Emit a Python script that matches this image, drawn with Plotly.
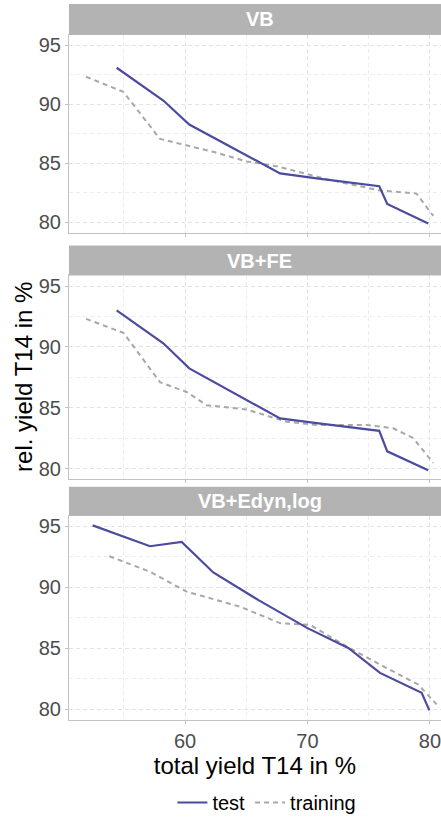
import plotly.graph_objects as go

panels = ["VB", "VB+FE", "VB+Edyn,log"]

# test series
vb_test_x = [54.42, 58.23, 60.35, 64.0, 67.76, 70.75, 75.86, 76.51, 79.86]
vb_test_y = [93.08, 90.31, 88.28, 86.25, 84.15, 83.72, 83.07, 81.57, 79.92]
fe_test_x = [54.42, 58.23, 60.35, 64.0, 67.76, 70.75, 75.86, 76.51, 79.86]
fe_test_y = [93.0, 90.3, 88.24, 86.2, 84.13, 83.75, 83.11, 81.43, 79.87]
ed_test_x = [52.46, 57.14, 59.73, 62.31, 66.0, 70.0, 73.33, 75.92, 79.32, 79.95]
ed_test_y = [95.08, 93.37, 93.72, 91.22, 88.95, 86.66, 85.03, 82.99, 81.36, 79.92]

# training series
vb_train_x = [51.92, 54.97, 57.96, 62.31, 65.04, 67.49, 72.1, 75.92, 78.91, 80.27]
vb_train_y = [92.32, 91.04, 87.06, 85.97, 85.16, 84.75, 83.53, 82.71, 82.44, 80.55]
fe_train_x = [51.92, 54.97, 57.96, 60.13, 61.77, 65.04, 68.3, 70.75, 74.83, 77.0, 78.64, 80.27]
fe_train_y = [92.3, 91.16, 87.11, 86.3, 85.22, 84.86, 83.86, 83.6, 83.6, 83.32, 82.51, 80.48]
ed_train_x = [53.82, 57.14, 60.13, 62.59, 64.49, 67.76, 70.2, 73.2, 75.92, 79.04, 80.55]
ed_train_y = [92.55, 91.28, 89.65, 88.97, 88.42, 87.07, 86.93, 85.16, 83.67, 82.04, 80.41]

test_x = [vb_test_x, fe_test_x, ed_test_x]
test_y = [vb_test_y, fe_test_y, ed_test_y]
train_x = [vb_train_x, fe_train_x, ed_train_x]
train_y = [vb_train_y, fe_train_y, ed_train_y]

x_ticks = [60, 70, 80]
y_ticks = [80, 85, 90, 95]

TEST_COL = "#4B4B9F"
TRAIN_COL = "#A8A8A8"
FONT = "Liberation Sans, Arial, sans-serif"

fig = go.Figure()

# layout geometry (paper fractions)
panel_domains = [[0.6805, 0.9571], [0.3361, 0.6209], [0.0, 0.2853]]
strip_domains = [[0.9571, 1.0], [0.6209, 0.6626], [0.2853, 0.3259]]

for i in range(3):
    xa = "x" if i == 0 else f"x{i+1}"
    ya = "y" if i == 0 else f"y{i+1}"
    fig.add_trace(go.Scatter(x=train_x[i], y=train_y[i], mode="lines", name="training",
                             line=dict(color=TRAIN_COL, width=2, dash="5px,4px"),
                             xaxis=xa, yaxis=ya, showlegend=False, legendrank=2))
    fig.add_trace(go.Scatter(x=test_x[i], y=test_y[i], mode="lines", name="test",
                             line=dict(color=TEST_COL, width=2.2),
                             xaxis=xa, yaxis=ya, showlegend=False, legendrank=1))

# legend entries
fig.add_trace(go.Scatter(x=[None], y=[None], mode="lines", name="test",
                         line=dict(color=TEST_COL, width=2.2), showlegend=True, legendrank=1))
fig.add_trace(go.Scatter(x=[None], y=[None], mode="lines", name="training",
                         line=dict(color=TRAIN_COL, width=2, dash="5px,4px"), showlegend=True, legendrank=2))

for i in range(3):
    xk = "xaxis" if i == 0 else f"xaxis{i+1}"
    yk = "yaxis" if i == 0 else f"yaxis{i+1}"
    ya = "y" if i == 0 else f"y{i+1}"
    xa = "x" if i == 0 else f"x{i+1}"
    xaxis = dict(range=[50.53, 80.9], tickvals=x_ticks, showticklabels=(i == 2),
                 anchor=ya, domain=[0, 1], showline=True, linecolor="#C2C2C2", linewidth=1,
                 mirror=True, ticks="outside", ticklen=3, tickcolor="#C2C2C2",
                 tickfont=dict(size=20, color="#4D4D4D", family=FONT), zeroline=False,
                 gridcolor="#E3E3E3", griddash="4px,3px", gridwidth=1,
                 ticklabeloverflow="allow",
                 minor=dict(showgrid=True, gridcolor="#EDEDED", griddash="4px,3px", gridwidth=1,
                            tickvals=[55, 65, 75]))
    if i != 0:
        xaxis["matches"] = "x"
    if i == 2:
        xaxis["title"] = dict(text="total yield T14 in %", font=dict(size=24, color="#000000", family=FONT),
                              standoff=6)
    yaxis = dict(range=[79.13, 95.87], tickvals=y_ticks, anchor=xa, domain=panel_domains[i],
                 showline=True, linecolor="#C2C2C2", linewidth=1, mirror=False,
                 ticks="outside", ticklen=3, tickcolor="#C2C2C2",
                 tickfont=dict(size=20, color="#4D4D4D", family=FONT), zeroline=False,
                 gridcolor="#E3E3E3", griddash="4px,3px", gridwidth=1,
                 minor=dict(showgrid=True, gridcolor="#EDEDED", griddash="4px,3px", gridwidth=1,
                            tickvals=[82.5, 87.5, 92.5]))
    fig.update_layout({xk: xaxis, yk: yaxis})

# strips
for i, name in enumerate(panels):
    y0, y1 = strip_domains[i]
    fig.add_shape(type="rect", xref="paper", yref="paper", x0=0, x1=1.02, y0=y0, y1=y1,
                  fillcolor="#B3B3B3", line=dict(width=0), layer="above")
    fig.add_annotation(text=f"<b>{name}</b>", xref="paper", yref="paper", x=0.513, y=(y0 + y1) / 2,
                       showarrow=False, font=dict(size=20, color="#FFFFFF", family=FONT),
                       xanchor="center", yanchor="middle")

# y axis title
fig.add_annotation(text="rel. yield T14 in %", xref="paper", yref="paper", x=-0.124, y=0.479,
                   textangle=-90, showarrow=False, font=dict(size=24, color="#000000", family=FONT),
                   xanchor="center", yanchor="middle")

fig.update_layout(
    width=441, height=822,
    margin=dict(l=69, r=0, t=4, b=96),
    paper_bgcolor="white", plot_bgcolor="white",
    font=dict(family=FONT),
    legend=dict(orientation="h", x=0.532, xanchor="center", y=-0.116, yanchor="middle",
                font=dict(size=20, color="#000000", family=FONT), itemwidth=30,
                traceorder="normal", bgcolor="rgba(0,0,0,0)"),
    showlegend=True,
)

fig.write_html("out.html", config={"displayModeBar": False},
               post_script="document.body.style.margin='0';document.body.style.overflow='hidden';")
